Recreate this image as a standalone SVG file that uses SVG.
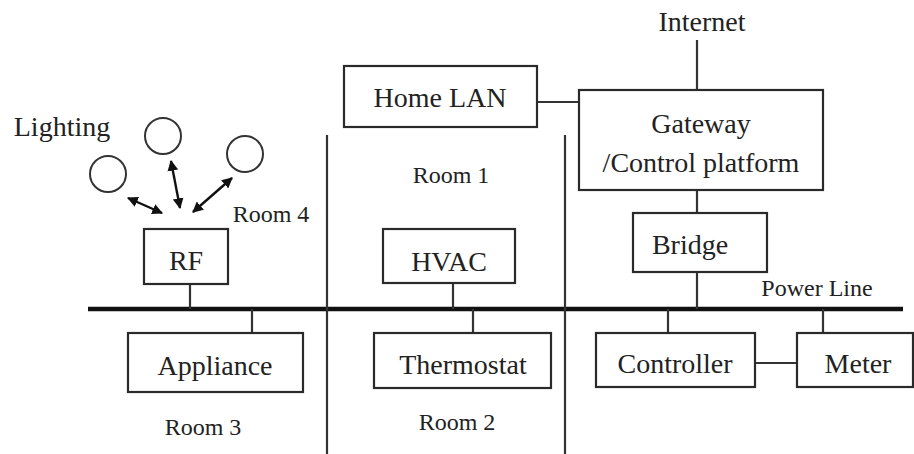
<svg xmlns="http://www.w3.org/2000/svg" width="914" height="454" viewBox="0 0 914 454">
<defs>
<style>
.box{fill:#fff;stroke:#2a2a2a;stroke-width:2.2}
.ln{stroke:#333;stroke-width:2.2;fill:none}
.bus{stroke:#111;stroke-width:4.5;fill:none}
text{font-family:"Liberation Serif","Times New Roman",serif;fill:#222;text-anchor:middle}
.lbl{font-size:28px}
.sm{font-size:24px}
.lamp{fill:#fff;stroke:#333;stroke-width:2}
.arr{stroke:#111;stroke-width:2.4;fill:none;marker-start:url(#ah);marker-end:url(#ah)}
</style>
<marker id="ah" viewBox="0 0 10 10" refX="9" refY="5" markerWidth="4.5" markerHeight="4.5" orient="auto-start-reverse">
<path d="M0,0 L10,5 L0,10 z" fill="#111"/>
</marker>
</defs>
<rect width="914" height="454" fill="#fff"/>
<g id="connectors">
<line class="bus" x1="88" y1="309" x2="903" y2="309"/>
<line class="ln" x1="327" y1="135" x2="327" y2="454"/>
<line class="ln" x1="565" y1="135" x2="565" y2="454"/>
<line class="ln" x1="697" y1="40" x2="697" y2="90"/>
<line class="ln" x1="537" y1="102" x2="579" y2="102"/>
<line class="ln" x1="697" y1="190" x2="697" y2="213"/>
<line class="ln" x1="697" y1="272" x2="697" y2="309"/>
<line class="ln" x1="668" y1="309" x2="668" y2="333"/>
<line class="ln" x1="823" y1="309" x2="823" y2="333"/>
<line class="ln" x1="755" y1="363" x2="797" y2="363"/>
<line class="ln" x1="190" y1="284" x2="190" y2="309"/>
<line class="ln" x1="252" y1="309" x2="252" y2="333"/>
<line class="ln" x1="453" y1="283" x2="453" y2="309"/>
<line class="ln" x1="473" y1="309" x2="473" y2="333"/>
<line class="arr" x1="128" y1="198" x2="162" y2="213"/>
<line class="arr" x1="171" y1="161" x2="180" y2="208"/>
<line class="arr" x1="232" y1="178" x2="193" y2="212"/>
</g>
<g id="internet"><text class="lbl" x="702" y="31" font-family="Liberation Serif, serif">Internet</text></g>
<g id="homelan"><rect class="box" x="344" y="66" width="193" height="61"/><text class="lbl" x="440" y="107" font-family="Liberation Serif, serif">Home LAN</text></g>
<g id="gateway"><rect class="box" x="579" y="90" width="244" height="100"/><text class="lbl" x="701" y="133" font-family="Liberation Serif, serif">Gateway</text><text class="lbl" x="701" y="172" font-family="Liberation Serif, serif">/Control platform</text></g>
<g id="bridge"><rect class="box" x="633" y="213" width="134" height="59"/><text class="lbl" x="690" y="254" font-family="Liberation Serif, serif">Bridge</text></g>
<g id="powerline"><text class="sm" x="817" y="296" font-family="Liberation Serif, serif">Power Line</text></g>
<g id="controller"><rect class="box" x="596" y="333" width="159" height="54"/><text class="lbl" x="675" y="373" font-family="Liberation Serif, serif">Controller</text></g>
<g id="meter"><rect class="box" x="797" y="333" width="116" height="54"/><text class="lbl" x="858" y="373" font-family="Liberation Serif, serif">Meter</text></g>
<g id="hvac"><rect class="box" x="383" y="229" width="132" height="54"/><text class="lbl" x="449" y="271" font-family="Liberation Serif, serif">HVAC</text></g>
<g id="thermostat"><rect class="box" x="374" y="333" width="177" height="55"/><text class="lbl" x="463" y="374" font-family="Liberation Serif, serif">Thermostat</text></g>
<g id="appliance"><rect class="box" x="128" y="333" width="175" height="59"/><text class="lbl" x="215" y="375" font-family="Liberation Serif, serif">Appliance</text></g>
<g id="rf"><rect class="box" x="144" y="229" width="84" height="55"/><text class="lbl" x="186" y="270" font-family="Liberation Serif, serif">RF</text></g>
<g id="lighting"><text class="lbl" x="62" y="136" font-family="Liberation Serif, serif">Lighting</text>
<circle class="lamp" cx="108" cy="174" r="18"/>
<circle class="lamp" cx="163" cy="136" r="18"/>
<circle class="lamp" cx="245" cy="154" r="18"/></g>
<g id="rooms">
<text class="sm" x="271" y="222" font-family="Liberation Serif, serif">Room 4</text>
<text class="sm" x="451" y="183" font-family="Liberation Serif, serif">Room 1</text>
<text class="sm" x="203" y="435" font-family="Liberation Serif, serif">Room 3</text>
<text class="sm" x="457" y="430" font-family="Liberation Serif, serif">Room 2</text>
</g>
</svg>
